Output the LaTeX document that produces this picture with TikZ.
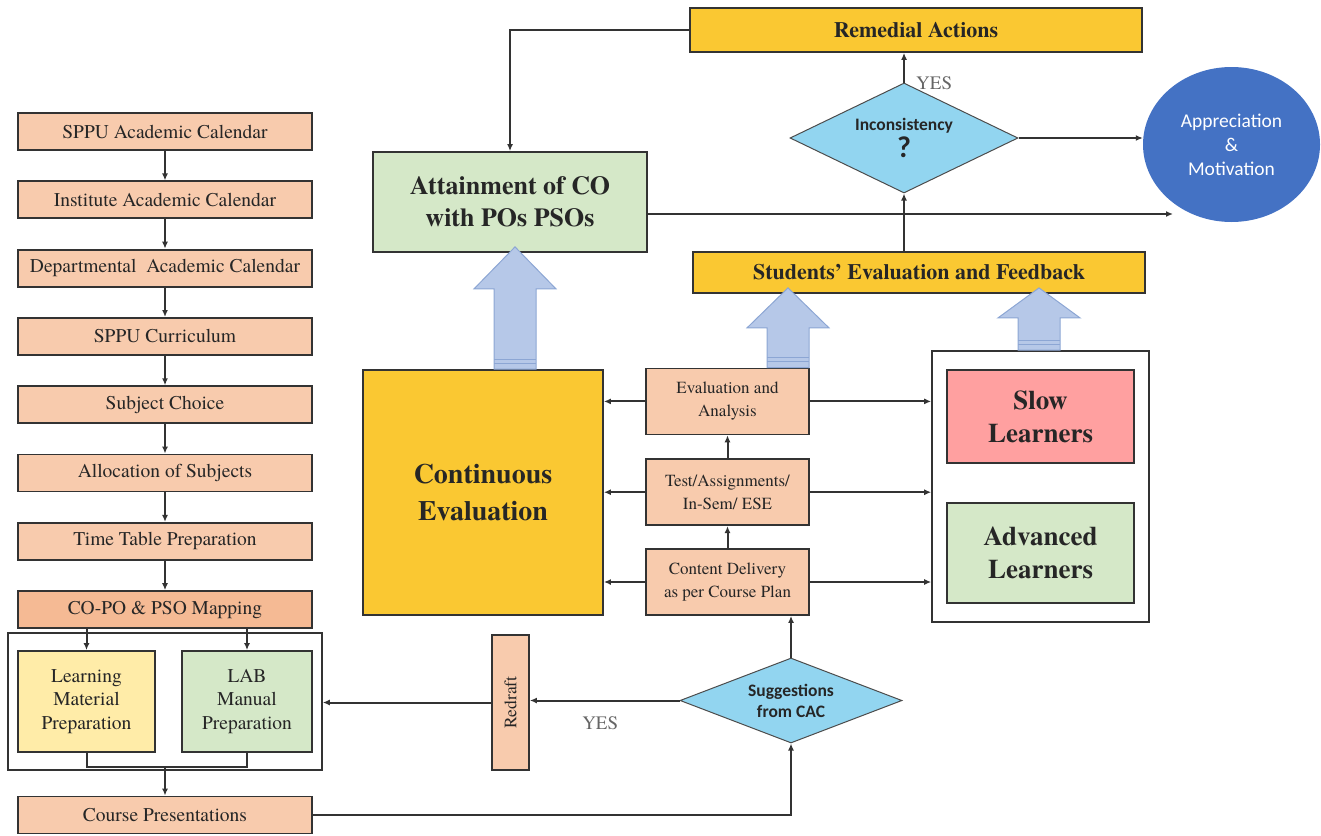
\documentclass[tikz,border=0pt]{standalone}
\usepackage{fontspec}
\setmainfont{texgyretermes}[Extension=.otf, UprightFont=*-regular, BoldFont=*-bold, ItalicFont=*-italic, BoldItalicFont=*-bolditalic]
\newfontfamily\calibfont{Carlito}
\usetikzlibrary{arrows.meta, positioning, shapes.geometric, fit, calc}

\definecolor{peach}{RGB}{248,203,173}
\definecolor{peachdark}{RGB}{245,186,148}
\definecolor{paleyellow}{RGB}{255,236,168}
\definecolor{palegreen}{RGB}{213,232,200}
\definecolor{pinkred}{RGB}{255,160,160}
\definecolor{gold}{RGB}{250,200,50}
\definecolor{skyblue}{RGB}{146,213,240}
\definecolor{royal}{RGB}{68,114,196}
\definecolor{arrowblue}{RGB}{182,200,232}
\definecolor{arrowedge}{RGB}{140,166,212}

\newcommand{\fsz}[2]{\fontsize{#1}{#2}\selectfont}
% big hollow arrow: x, from node, to node, head length
\newcommand{\blockarrow}[4]{%
  \draw[bigarrow] let \p1=(#2.north), \p2=(#3.south) in
    (#1pt-21pt,\y1) -- (#1pt-21pt,\y2+6pt-#4pt) -- (#1pt-41pt,\y2+6pt-#4pt) -- (#1pt,\y2+6pt)
    -- (#1pt+41pt,\y2+6pt-#4pt) -- (#1pt+21pt,\y2+6pt-#4pt) -- (#1pt+21pt,\y1) -- cycle;
  \draw[stripe] let \p1=(#2.north) in
    (#1pt-21pt,\y1+6pt) -- (#1pt+21pt,\y1+6pt) (#1pt-21pt,\y1+10pt) -- (#1pt+21pt,\y1+10pt);
}

\begin{document}
\begin{tikzpicture}[x=1pt, y=-1pt, node distance=29.5pt, every node/.style={inner sep=0pt, text=black!85}]
  % styles
  \tikzstyle{calbox}=[rectangle, draw=black!80, line width=1.8pt, fill=peach, minimum width=294pt, minimum height=37pt, font=\fsz{19.5}{22}]
  \tikzstyle{stepbox}=[rectangle, draw=black!80, line width=1.8pt, fill=peach, minimum width=163pt, minimum height=66pt, align=center, font=\fsz{17}{23}]
  \tikzstyle{prepnode}=[rectangle, draw=black!80, line width=1.8pt, minimum height=101pt, align=center, font=\fsz{19.5}{23.5}]
  \tikzstyle{grpbox}=[rectangle, draw=black!80, line width=1.8pt]
  \tikzstyle{goldbox}=[rectangle, draw=black!80, line width=1.8pt, fill=gold, align=center, font=\bfseries\fsz{22}{26}]
  \tikzstyle{learnbox}=[rectangle, draw=black!80, line width=1.8pt, minimum width=187pt, align=center, font=\bfseries\fsz{27}{33}]
  \tikzstyle{decision}=[diamond, draw=black!70, line width=1pt, fill=skyblue, align=center, font=\calibfont\bfseries\fsz{17.5}{21}]
  \tikzstyle{yeslbl}=[text=black!60, font=\fsz{19}{22}]
  \tikzstyle{arrow}=[line width=2pt, draw=black!80, -{Latex[length=7pt,width=6pt]}]
  \tikzstyle{link}=[line width=2pt, draw=black!80]
  \tikzstyle{bigarrow}=[fill=arrowblue, draw=arrowedge, line width=1pt]
  \tikzstyle{stripe}=[draw=arrowedge, line width=1pt]

  \useasboundingbox (0,0) rectangle (1321,835);

  % left column
  \node (sppucal) [calbox] at (165,131.5) {SPPU Academic Calendar};
  \node (instcal) [calbox, below=of sppucal] {Institute Academic Calendar};
  \node (deptcal) [calbox, below=of instcal] {Departmental\ \ Academic Calendar};
  \node (curric) [calbox, below=of deptcal] {SPPU Curriculum};
  \node (subject) [calbox, below=of curric] {Subject Choice};
  \node (alloc) [calbox, below=of subject] {Allocation of Subjects};
  \node (timetable) [calbox, below=of alloc] {Time Table Preparation};
  \node (copo) [calbox, fill=peachdark, below=of timetable] {CO-PO \& PSO Mapping};

  \node (learnmat) [prepnode, fill=paleyellow, minimum width=137pt] at (86.5,701.5) {Learning\\Material\\Preparation};
  \node (labman) [prepnode, fill=palegreen, minimum width=130pt] at (247,701.5) {LAB\\Manual\\Preparation};
  \node (prepbox) [grpbox, fit=(learnmat)(labman), inner xsep=9pt, inner ysep=17pt] {};
  \node (present) [calbox] at (165,815) {Course Presentations};

  % middle
  \node (redraft) [rectangle, draw=black!80, line width=1.8pt, fill=peach, minimum width=37pt, minimum height=135pt, font=\fsz{17.5}{20}] at (510.5,702.5) {\rotatebox{90}{Redraft}};
  \node (cac) [decision, aspect=2.6, minimum width=222pt, minimum height=85pt] at (791,700.5) {Suggestions\\from CAC};

  \node (content) [stepbox] at (727.5,582) {Content Delivery\\as per Course Plan};
  \node (test) [stepbox, above=22pt of content] {Test/Assignments/\\In-Sem/ ESE};
  \node (eval) [stepbox, above=23pt of test] {Evaluation and\\Analysis};

  \node (conteval) [goldbox, minimum width=240pt, minimum height=245pt, font=\bfseries\fsz{28}{37}] at (483,492.5) {Continuous\\Evaluation};
  \node (attain) [goldbox, fill=palegreen, minimum width=274pt, minimum height=100pt, font=\bfseries\fsz{26}{32}] at (510,202) {Attainment of CO\\with POs PSOs};

  % right
  \node (slow) [learnbox, fill=pinkred, minimum height=93pt] at (1040.5,416.5) {Slow\\Learners};
  \node (advanced) [learnbox, fill=palegreen, minimum height=100pt] at (1040.5,553) {Advanced\\Learners};
  \node (learners) [grpbox, fit=(slow)(advanced), inner xsep=14pt, inner ysep=18pt] {};

  \node (feedback) [goldbox, minimum width=452pt, minimum height=41pt] at (919,272.5) {Students' Evaluation and Feedback};
  \node (incons) [decision, aspect=2.1, minimum width=228pt, minimum height=110pt] at (904,138) {Inconsistency\\[2pt]\fsz{30}{30}?};
  \node (remedial) [goldbox, minimum width=452pt, minimum height=44pt] at (916,30) {Remedial Actions};
  \node (apprec) [ellipse, fill=royal, minimum width=177pt, minimum height=155pt, align=center, text=white, font=\calibfont\fsz{19.5}{24}] at (1231.5,144.5) {Appreciation\\\&\\Motivation};
  \coordinate (attend) at (1173,214);

  % arrows
  \draw[arrow] (sppucal) -- (instcal);
  \draw[arrow] (instcal) -- (deptcal);
  \draw[arrow] (deptcal) -- (curric);
  \draw[arrow] (curric) -- (subject);
  \draw[arrow] (subject) -- (alloc);
  \draw[arrow] (alloc) -- (timetable);
  \draw[arrow] (timetable) -- (copo);
  \draw[arrow] (copo.south -| learnmat) -- (learnmat);
  \draw[arrow] (copo.south -| labman) -- (labman);
  \coordinate (merge) at (present.north |- 0,767);
  \draw[link] (learnmat.south) |- (merge) -| (labman.south);
  \draw[arrow] (merge) -- (present);
  \draw[arrow] (present.east) -| (cac.south);
  \draw[arrow] (cac.north) -- (cac.north |- content.south);
  \draw[arrow] (cac.west) -- (redraft.east |- cac.west) node[yeslbl, pos=0.53, below=15pt] {YES};
  \draw[arrow] (redraft) -- (redraft -| prepbox.east);
  \draw[arrow] (content) -- (test);
  \draw[arrow] (test) -- (eval);
  \foreach \n in {eval, test, content} {
    \draw[arrow] (\n.west) -- (\n.west -| conteval.east);
    \draw[arrow] (\n.east) -- (\n.east -| learners.west);
  }
  \draw[arrow] (feedback.north -| incons) -- (incons.south);
  \draw[arrow] (incons.north) -- (incons.north |- remedial.south);
  \node[yeslbl, anchor=west] at ($(incons.north)+(12,1)$) {YES};
  \draw[arrow] (incons.east) -- (apprec.west |- incons.east);
  \draw[arrow] (remedial.west) -| (attain.north);
  \draw[arrow] (attain.east |- attend) -- (attend);

  \blockarrow{515}{conteval}{attain}{42}
  \blockarrow{788}{eval}{feedback}{40}
  \blockarrow{1039}{learners}{feedback}{30}
\end{tikzpicture}
\end{document}
